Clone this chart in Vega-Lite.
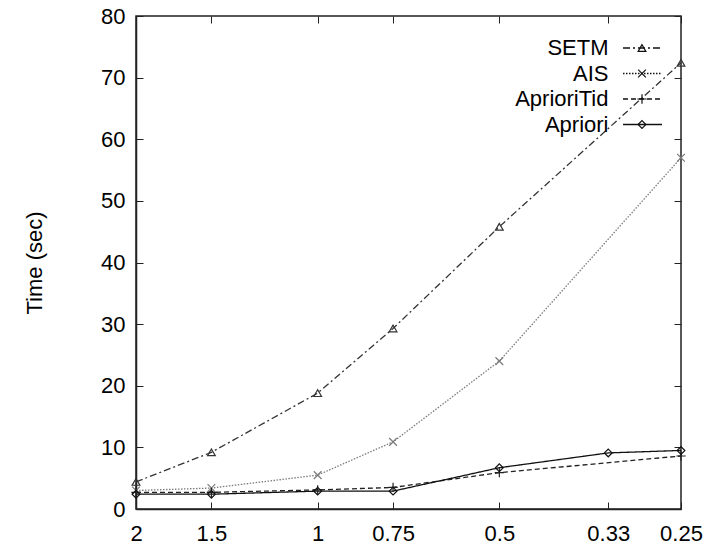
{
  "$schema": "https://vega.github.io/schema/vega-lite/v6.json",
  "width": 545,
  "height": 493,
  "autosize": {"type": "none"},
  "padding": {"left": 136, "top": 16, "right": 36, "bottom": 36},
  "background": "#ffffff",
  "config": {
    "font": "Liberation Sans",
    "view": {"stroke": "#222222", "strokeWidth": 1.5},
    "axis": {
      "grid": false,
      "domainColor": "#222222",
      "domainWidth": 1.5,
      "tickColor": "#222222",
      "tickWidth": 1,
      "tickSize": -7,
      "labelFont": "Liberation Sans",
      "labelFontSize": 22,
      "labelColor": "#000000",
      "titleFont": "Liberation Sans",
      "titleFontSize": 22,
      "titleFontWeight": "normal",
      "titleColor": "#000000"
    }
  },
  "data": {
    "values": [
      {"support": 2, "time": 4.4, "algorithm": "SETM"},
      {"support": 1.5, "time": 9.2, "algorithm": "SETM"},
      {"support": 1, "time": 18.8, "algorithm": "SETM"},
      {"support": 0.75, "time": 29.3, "algorithm": "SETM"},
      {"support": 0.5, "time": 45.8, "algorithm": "SETM"},
      {"support": 0.25, "time": 72.4, "algorithm": "SETM"},
      {"support": 2, "time": 3.0, "algorithm": "AIS"},
      {"support": 1.5, "time": 3.4, "algorithm": "AIS"},
      {"support": 1, "time": 5.5, "algorithm": "AIS"},
      {"support": 0.75, "time": 10.9, "algorithm": "AIS"},
      {"support": 0.5, "time": 24.0, "algorithm": "AIS"},
      {"support": 0.25, "time": 57.0, "algorithm": "AIS"},
      {"support": 2, "time": 2.7, "algorithm": "AprioriTid"},
      {"support": 1.5, "time": 2.7, "algorithm": "AprioriTid"},
      {"support": 1, "time": 3.1, "algorithm": "AprioriTid"},
      {"support": 0.75, "time": 3.5, "algorithm": "AprioriTid"},
      {"support": 0.5, "time": 5.9, "algorithm": "AprioriTid"},
      {"support": 0.25, "time": 8.6, "algorithm": "AprioriTid"},
      {"support": 2, "time": 2.4, "algorithm": "Apriori"},
      {"support": 1.5, "time": 2.4, "algorithm": "Apriori"},
      {"support": 1, "time": 2.9, "algorithm": "Apriori"},
      {"support": 0.75, "time": 2.9, "algorithm": "Apriori"},
      {"support": 0.5, "time": 6.7, "algorithm": "Apriori"},
      {"support": 0.33, "time": 9.1, "algorithm": "Apriori"},
      {"support": 0.25, "time": 9.5, "algorithm": "Apriori"}
    ]
  },
  "layer": [
    {
      "mark": {"type": "line", "strokeWidth": 1.3},
      "encoding": {
        "x": {
          "field": "support", "type": "quantitative",
          "scale": {"type": "log", "domain": [0.25, 2], "reverse": true, "nice": false},
          "axis": {"orient": "bottom", "values": [2, 1.5, 1, 0.75, 0.5, 0.33, 0.25], "labelExpr": "'' + datum.value", "title": null, "labelPadding": 21, "labelFlush": false, "labelOverlap": false}
        },
        "y": {
          "field": "time", "type": "quantitative",
          "scale": {"domain": [0, 80], "nice": false},
          "axis": {"orient": "left", "values": [0, 10, 20, 30, 40, 50, 60, 70, 80], "title": "Time (sec)", "labelPadding": 18, "titlePadding": 54}
        },
        "color": {
          "field": "algorithm", "type": "nominal",
          "sort": "descending",
          "scale": {"range": ["#333333", "#222222", "#111111", "#7a7a7a"]},
          "legend": null
        },
        "strokeDash": {
          "field": "algorithm", "type": "nominal",
          "scale": {"domain": ["SETM", "AIS", "AprioriTid", "Apriori"], "range": [[7, 3, 2, 3], [1.5, 1.5], [5, 3], [1, 0]]},
          "legend": {
            "orient": "none", "legendX": 495.5, "legendY": 21, "title": null, "padding": 0,
            "symbolType": "M-3,0H3", "symbolSize": 169, "symbolStrokeWidth": 1.3, "symbolStrokeColor": "#111111",
            "labelAlign": "right", "labelOffset": -45, "labelFontSize": 22, "labelFont": "Liberation Sans", "labelColor": "#000000",
            "rowPadding": 3.5
          }
        }
      }
    },
    {
      "mark": {"type": "point", "filled": false, "strokeWidth": 1.2, "size": 60, "opacity": 1},
      "encoding": {
        "x": {
          "field": "support", "type": "quantitative",
          "axis": {"orient": "top", "values": [2, 1.5, 1, 0.75, 0.5, 0.33, 0.25], "labels": false, "title": null, "domain": false}
        },
        "y": {
          "field": "time", "type": "quantitative",
          "axis": {"orient": "right", "values": [0, 10, 20, 30, 40, 50, 60, 70, 80], "labels": false, "title": null, "domain": false}
        },
        "color": {"field": "algorithm", "type": "nominal", "sort": "descending", "legend": null},
        "shape": {
          "field": "algorithm", "type": "nominal",
          "sort": ["SETM", "AIS", "AprioriTid", "Apriori"],
          "scale": {"range": ["triangle-up", "M-1,-1L1,1M-1,1L1,-1", "M-1.2,0H1.2M0,-1.2V1.2", "diamond"]},
          "legend": {
            "orient": "top-right", "offset": 21, "title": null, "padding": 0,
            "symbolSize": 60, "symbolStrokeWidth": 1.2, "symbolStrokeColor": "#111111", "symbolFillColor": "transparent",
            "labelExpr": "''", "labelFontSize": 22, "labelOffset": 7, "rowPadding": 3.5
          }
        }
      }
    }
  ],
  "resolve": {"axis": {"x": "independent", "y": "independent"}}
}
